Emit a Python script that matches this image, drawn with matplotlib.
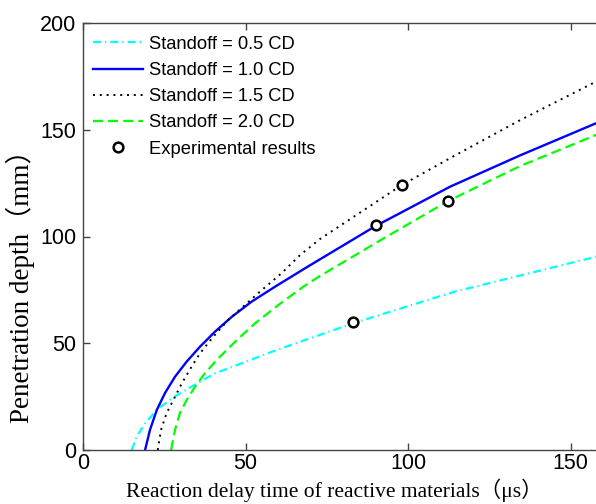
import matplotlib.pyplot as plt

# values
x_05 = [15.0, 16.5, 19.1, 22.7, 27.3, 33.4, 40.6, 48.8, 58.1, 68.3, 72.9, 83.0, 114.0, 157.8, 160.0]
y_05 = [0.0, 6.2, 12.5, 18.7, 24.2, 29.7, 35.9, 40.6, 46.0, 51.5, 53.9, 59.3, 74.0, 90.5, 91.3]

x_10 = [19.1, 20.6, 22.7, 25.2, 28.3, 31.9, 36.0, 40.6, 45.8, 51.9, 59.1, 68.3, 72.9,
        89.9, 112.9, 134.5, 157.8, 160.0]
y_10 = [0.0, 9.4, 18.7, 26.6, 34.3, 41.4, 48.4, 55.4, 62.4, 69.5, 76.5, 85.1, 89.3,
        104.8, 123.3, 138.0, 153.0, 154.4]

x_15 = [23.0, 24.0, 25.7, 27.8, 30.4, 33.4, 36.0, 40.1, 44.7, 49.8, 55.0, 61.1, 66.8,
        72.9, 98.1, 113.9, 134.5, 157.8, 160.0]
y_15 = [0.0, 9.4, 17.2, 23.4, 31.2, 39.0, 45.3, 53.1, 60.9, 67.9, 74.9, 82.8, 91.3,
        98.8, 124.1, 137.5, 154.5, 172.5, 174.3]

x_20 = [27.1, 28.3, 29.8, 31.9, 34.5, 37.5, 41.6, 46.8, 52.9, 60.1, 67.8, 72.9, 93.4,
        112.2, 134.5, 157.8, 160.0]
y_20 = [0.0, 9.4, 17.2, 23.4, 29.7, 35.9, 42.9, 50.7, 59.3, 67.9, 76.5, 81.5, 99.9,
        116.5, 133.0, 147.5, 148.9]

x_exp = [83.0, 90.0, 98.0, 112.2]
y_exp = [59.8, 105.4, 124.3, 116.5]

labels = ["Standoff = 0.5 CD", "Standoff = 1.0 CD", "Standoff = 1.5 CD",
          "Standoff = 2.0 CD", "Experimental results"]

fig = plt.figure(figsize=(5.96, 5.04), dpi=100)
# right end of the x axis (160) lies just past the picture edge, as in the original
ax = fig.add_axes([83 / 596, 54 / 504, 520 / 596, 427 / 504])

ax.plot(x_05, y_05, color="#00FFFF", lw=1.6, ls=(0, (3.6, 1.8, 0.6, 1.8)), label=labels[0])
ax.plot(x_10, y_10, color="#0000FF", lw=1.7, ls="-", label=labels[1])
ax.plot(x_15, y_15, color="black", lw=1.4, ls=(0, (1, 2.5)), label=labels[2])
ax.plot(x_20, y_20, color="#00FF00", lw=1.6, ls=(0, (4.5, 2.3)), label=labels[3])
ax.plot(x_exp, y_exp, ls="none", marker="o", ms=7, mfc="white", mec="black",
        mew=1.8, label=labels[4])

ax.set_xlim(0, 160)
ax.set_ylim(0, 200)
ax.set_xticks([0, 50, 100, 150])
ax.set_yticks([0, 50, 100, 150, 200])
ax.tick_params(direction="in", top=True, right=True, labelsize=15.5, length=5,
               width=1, color="#444444")
ax.tick_params(axis="y", pad=5)
ax.tick_params(axis="x", pad=2)
for lab in ax.get_xticklabels() + ax.get_yticklabels():
    lab.set_family(["Liberation Sans"])
for s in ax.spines.values():
    s.set_color("#444444")
    s.set_linewidth(1.0)

serif = ["Liberation Serif", "Noto Sans CJK SC"]
ax.set_xlabel("Reaction delay time of reactive materials（μs）", family=serif,
              fontsize=15.5)
ax.set_ylabel("Penetration depth（mm）", family=serif, fontsize=19.5)
ax.xaxis.set_label_coords(0.484, -0.068)
ax.yaxis.set_label_coords(-0.092, 0.40)

leg = ax.legend(loc="upper left", bbox_to_anchor=(-0.006, 1.0), frameon=False,
                handlelength=2.75, handletextpad=0.33, labelspacing=0.5,
                borderaxespad=0.3, prop={"family": "Liberation Sans", "size": 13.2})

fig.savefig("out.png", dpi=100)
